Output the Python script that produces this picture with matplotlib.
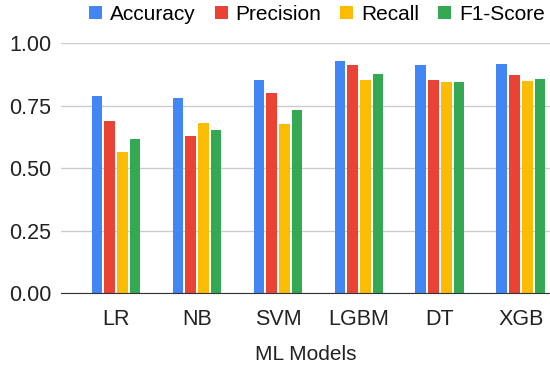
import numpy as np
import matplotlib
matplotlib.use('Agg')
import matplotlib.pyplot as plt

plt.rcParams['font.family'] = ['Liberation Sans', 'DejaVu Sans']

models = ['LR', 'NB', 'SVM', 'LGBM', 'DT', 'XGB']
metrics = ['Accuracy', 'Precision', 'Recall', 'F1-Score']
accuracy = [0.791, 0.783, 0.852, 0.928, 0.912, 0.916]
precision = [0.689, 0.629, 0.801, 0.912, 0.852, 0.873]
recall = [0.564, 0.680, 0.676, 0.852, 0.844, 0.848]
f1 = [0.617, 0.652, 0.732, 0.877, 0.844, 0.856]
colors = ['#4285F4', '#EA4335', '#FBBC04', '#34A853']

fig = plt.figure(figsize=(5.5, 3.7), dpi=100)
ax = fig.add_axes([61/550, 1 - 293.3/370, 489/550, 250/370])

x = np.arange(len(models))
pitch = 0.157
width = 0.132
for i, (name, vals) in enumerate(zip(metrics, [accuracy, precision, recall, f1])):
    ax.bar(x + (i - 1.5) * pitch, vals, width, color=colors[i], label=name, zorder=3)

ax.set_xlim(-0.68, 5.36)
ax.set_ylim(0, 1.0)
ax.set_yticks([0, 0.25, 0.5, 0.75, 1.0])
ax.set_yticklabels(['0.00', '0.25', '0.50', '0.75', '1.00'])
ax.set_xticks(x)
ax.set_xticklabels(models)
ax.tick_params(axis='both', length=0, labelsize=15.5, colors='#222222')
ax.tick_params(axis='x', pad=11)
ax.tick_params(axis='y', pad=7)
ax.grid(axis='y', color='#cccccc', linewidth=1, zorder=0)
for s in ['top', 'right', 'left']:
    ax.spines[s].set_visible(False)
ax.spines['bottom'].set_color('#333333')
ax.spines['bottom'].set_zorder(4)
ax.set_xlabel('ML Models', fontsize=15, color='#222222', labelpad=11)

ax.legend(loc='center', bbox_to_anchor=(317/550, 1 - 14.5/370),
          bbox_transform=fig.transFigure, ncol=4, frameon=False,
          fontsize=15, handlelength=0.63, handleheight=0.63, handletextpad=0.38,
          columnspacing=0.9, borderaxespad=0, borderpad=0)

fig.savefig('out.png', dpi=100)
